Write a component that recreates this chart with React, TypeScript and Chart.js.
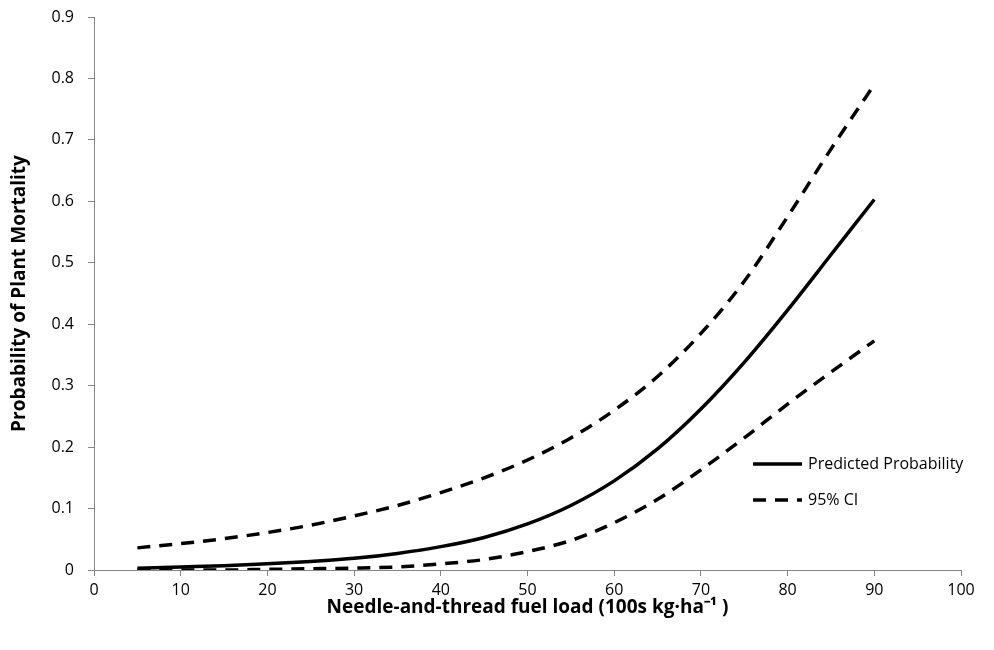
import React, { useEffect, useRef } from "react";
import { Chart, registerables } from "chart.js";

Chart.register(...registerables);

const fuelLoad = [5, 10, 15, 20, 25, 30, 35, 40, 45, 50, 55, 60, 65, 70, 75, 80, 85, 90];
const predicted = [0.003, 0.005, 0.007, 0.01, 0.014, 0.019, 0.027, 0.038, 0.053, 0.075, 0.105, 0.145, 0.197, 0.262, 0.338, 0.423, 0.513, 0.603];
const upperCI = [0.036, 0.043, 0.051, 0.061, 0.073, 0.088, 0.105, 0.126, 0.15, 0.179, 0.215, 0.26, 0.315, 0.385, 0.47, 0.575, 0.685, 0.79];
const lowerCI = [0.0, 0.0, 0.0, 0.001, 0.002, 0.003, 0.005, 0.01, 0.017, 0.03, 0.048, 0.077, 0.115, 0.163, 0.215, 0.27, 0.322, 0.373];
const legendLabels = ["Predicted Probability", "95% CI"];
const xTitle = "Needle-and-thread fuel load (100s kg·ha⁻¹ )";
const yTitle = "Probability of Plant Mortality";

const FONT = "'Open Sans'";
const AXIS_GRAY = "#868686";

const legendPlugin = {
  id: "customLegend",
  afterDraw(chart: any) {
    const ctx = chart.ctx;
    ctx.save();
    ctx.strokeStyle = "#000";
    ctx.lineWidth = 3.5;
    ctx.lineCap = "butt";
    const x0 = 753;
    const rows = [464, 500];
    rows.forEach((y, i) => {
      ctx.beginPath();
      ctx.setLineDash(i === 0 ? [] : [13, 9]);
      ctx.moveTo(x0, y);
      ctx.lineTo(x0 + 49, y);
      ctx.stroke();
      ctx.setLineDash([]);
      ctx.fillStyle = "#000";
      ctx.font = `16px ${FONT}`;
      ctx.textBaseline = "middle";
      ctx.textAlign = "left";
      ctx.fillText(legendLabels[i], x0 + 55, y);
    });
    ctx.restore();
  },
};

export default function App() {
  const ref = useRef<HTMLCanvasElement>(null);
  useEffect(() => {
    document.body.style.margin = "0";
    const toPts = (ys: number[]) => fuelLoad.map((x, i) => ({ x, y: ys[i] }));
    const common = {
      borderColor: "#000",
      borderWidth: 3.5,
      pointRadius: 0,
      fill: false,
      tension: 0.3,
      cubicInterpolationMode: "monotone" as const,
    };
    const chart = new Chart(ref.current!, {
      type: "line",
      data: {
        datasets: [
          { label: legendLabels[0], data: toPts(predicted), ...common },
          { label: legendLabels[1], data: toPts(upperCI), borderDash: [13, 9], ...common },
          { label: "lower", data: toPts(lowerCI), borderDash: [13, 9], ...common },
        ],
      },
      options: {
        responsive: false,
        animation: false,
        layout: { padding: { top: 17, right: 33, left: 0, bottom: 0 } },
        plugins: { legend: { display: false }, tooltip: { enabled: false } },
        scales: {
          x: {
            type: "linear",
            min: 0,
            max: 100,
            afterFit(s: any) { s.height = 80; s.paddingRight = 0; s.paddingLeft = 0; },
            ticks: { stepSize: 10, color: "#000", font: { family: FONT, size: 16 }, padding: 5, maxRotation: 0 },
            grid: { drawOnChartArea: false, drawTicks: true, tickLength: 6, color: AXIS_GRAY },
            border: { color: AXIS_GRAY, width: 1 },
            title: { display: true, text: xTitle, color: "#000", font: { family: FONT, size: 19, weight: "bold" }, padding: { top: 0, bottom: 31 } },
          },
          y: {
            min: 0,
            max: 0.9,
            afterFit(s: any) { s.width = 94; s.paddingTop = 0; s.paddingBottom = 0; },
            ticks: {
              stepSize: 0.1,
              color: "#000",
              font: { family: FONT, size: 16 },
              padding: 14,
              callback: (v: any) => (v === 0 ? "0" : Number(v).toFixed(1)),
            },
            grid: { drawOnChartArea: false, drawTicks: true, tickLength: 6, color: AXIS_GRAY },
            border: { color: AXIS_GRAY, width: 1 },
            title: { display: true, text: yTitle, color: "#000", font: { family: FONT, size: 19, weight: "bold" }, padding: { top: 8, bottom: 0 } },
          },
        },
      } as any,
      plugins: [legendPlugin],
    });
    return () => chart.destroy();
  }, []);
  return <canvas ref={ref} width={994} height={650} style={{ display: "block" }} />;
}
